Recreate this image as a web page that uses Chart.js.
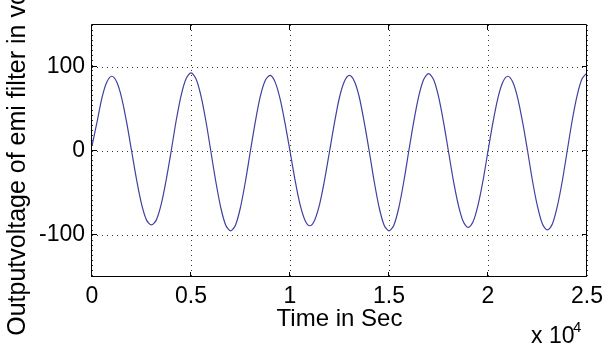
<!DOCTYPE html>
<html>
<head>
<meta charset="utf-8">
<script src="https://cdn.jsdelivr.net/npm/chart.js@4/dist/chart.umd.min.js"></script>
<style>
  html, body { margin: 0; padding: 0; background: #fff; }
  #wrap { width: 610px; height: 345px; }
</style>
</head>
<body>
<div id="wrap"><canvas id="emiChart" width="610" height="345"></canvas></div>
<script>
// sample times (s) and output voltage
const sampleTimes = [
  0, 250, 500, 750, 1000, 1250, 1500, 1750, 2000, 2250, 2500, 2750, 3000, 3250, 3500, 3750,
  4000, 4250, 4500, 4750, 5000, 5250, 5500, 5750, 6000, 6250, 6500, 6750, 7000, 7250, 7500, 7750,
  8000, 8250, 8500, 8750, 9000, 9250, 9500, 9750, 10000, 10250, 10500, 10750, 11000, 11250, 11500, 11750,
  12000, 12250, 12500, 12750, 13000, 13250, 13500, 13750, 14000, 14250, 14500, 14750, 15000, 15250, 15500, 15750,
  16000, 16250, 16500, 16750, 17000, 17250, 17500, 17750, 18000, 18250, 18500, 18750, 19000, 19250, 19500, 19750,
  20000, 20250, 20500, 20750, 21000, 21250, 21500, 21750, 22000, 22250, 22500, 22750, 23000, 23250, 23500, 23750,
  24000, 24250, 24500, 24750, 25000
];
const outputVoltage = [
  6, 34, 63, 82, 89, 82, 63, 34, 0, -34, -63, -82, -88, -82, -63, -34,
  0, 36, 66, 86, 93, 86, 66, 36, 0, -36, -67, -88, -95, -88, -67, -36,
  0, 35, 65, 84, 90, 82, 62, 33, 0, -34, -63, -82, -89, -82, -63, -34,
  0, 34, 64, 83, 90, 83, 64, 34, 0, -36, -67, -88, -95, -88, -67, -36,
  0, 35, 65, 85, 92, 85, 65, 35, 0, -35, -64, -84, -91, -84, -64, -35,
  0, 34, 63, 82, 89, 82, 63, 34, 0, -36, -66, -87, -94, -87, -66, -36,
  0, 36, 66, 86, 93
];
const xTicks = [0, 5000, 10000, 15000, 20000, 25000];
const yTicks = [-100, 0, 100];

const FONT = 'Liberation Sans, Arial, Helvetica, sans-serif';
Chart.defaults.color = '#000';
Chart.defaults.font.family = FONT;

// matlab style box, inner tick marks and the x 10^4 exponent
const matlabFrame = {
  id: 'matlabFrame',
  afterDraw(chart) {
    const { ctx, chartArea: a, scales: { x, y } } = chart;
    const len = 5;
    ctx.save();
    ctx.strokeStyle = '#000';
    ctx.lineWidth = 1;
    ctx.beginPath();
    ctx.rect(Math.round(a.left) - 0.5, Math.round(a.top) - 0.5, Math.round(a.right - a.left), Math.round(a.bottom - a.top));
    xTicks.forEach((v) => {
      const px = Math.round(x.getPixelForValue(v)) - 0.5;
      ctx.moveTo(px, a.bottom); ctx.lineTo(px, a.bottom - len);
      ctx.moveTo(px, a.top); ctx.lineTo(px, a.top + len);
    });
    yTicks.forEach((v) => {
      const py = Math.round(y.getPixelForValue(v)) - 0.5;
      ctx.moveTo(a.left, py); ctx.lineTo(a.left + len, py);
      ctx.moveTo(a.right, py); ctx.lineTo(a.right - len, py);
    });
    ctx.stroke();

    ctx.fillStyle = '#000';
    ctx.textBaseline = 'alphabetic';
    ctx.textAlign = 'left';
    ctx.font = '23px ' + FONT;
    ctx.fillText('x 10', 531, 343);
    ctx.font = '15px ' + FONT;
    ctx.fillText('4', 573, 332);
    ctx.restore();
  }
};

new Chart(document.getElementById('emiChart'), {
  type: 'line',
  data: {
    datasets: [{
      label: 'Output voltage',
      data: sampleTimes.map((t, i) => ({ x: t, y: outputVoltage[i] })),
      borderColor: '#40409f',
      borderWidth: 1.2,
      pointRadius: 0,
      tension: 0.3,
      fill: false
    }]
  },
  options: {
    responsive: false,
    animation: false,
    devicePixelRatio: 1,
    layout: { padding: { top: 25, right: 23, bottom: 0, left: 0 } },
    plugins: { legend: { display: false }, tooltip: { enabled: false } },
    scales: {
      x: {
        type: 'linear',
        min: 0,
        max: 25000,
        afterBuildTicks: (s) => { s.ticks = xTicks.map((v) => ({ value: v })); },
        afterFit: (s) => { s.height = 68; },
        grid: { color: '#333', lineWidth: 1, drawTicks: false },
        border: { display: false, dash: [1, 4] },
        ticks: {
          padding: 6,
          maxRotation: 0,
          font: { size: 23 },
          callback: (v) => String(v / 10000)
        },
        title: {
          display: true,
          text: 'Time in Sec',
          font: { size: 24 },
          padding: { top: 0, bottom: 11 }
        }
      },
      y: {
        min: -150,
        max: 150,
        afterBuildTicks: (s) => { s.ticks = yTicks.map((v) => ({ value: v })); },
        afterFit: (s) => { s.width = 92; },
        grid: { color: '#333', lineWidth: 1, drawTicks: false },
        border: { display: false, dash: [1, 4] },
        ticks: {
          padding: 7,
          font: { size: 23 },
          callback: (v) => String(v)
        },
        title: {
          display: true,
          text: 'Outputvoltage of emi filter in volts',
          font: { size: 25 },
          padding: { top: 3, bottom: 0 }
        }
      }
    }
  },
  plugins: [matlabFrame]
});
</script>
</body>
</html>
